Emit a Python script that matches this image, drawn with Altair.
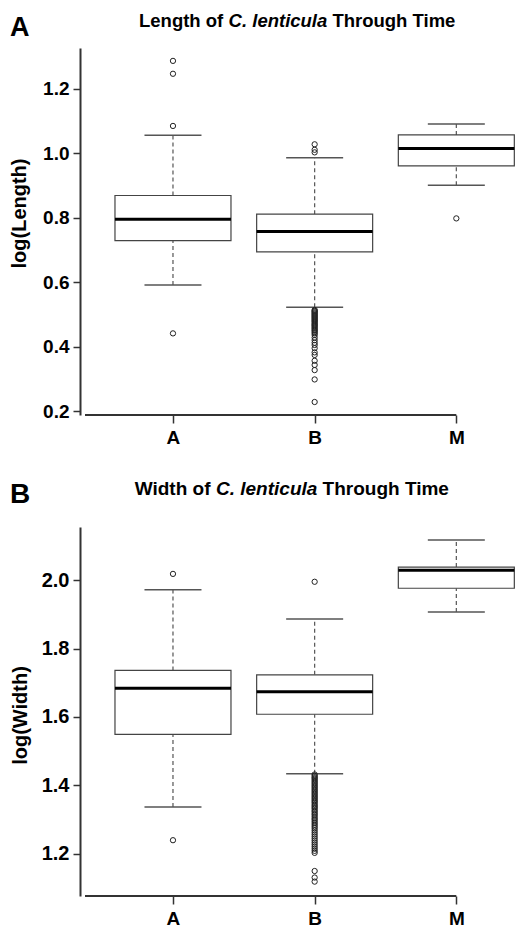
import altair as alt
import pandas as pd

groups = ["A", "B", "M"]
positions = [1, 2, 3]

# Panel A: log(Length)
len_low = [0.591, 0.522, 0.901]
len_q1 = [0.729, 0.694, 0.961]
len_med = [0.795, 0.757, 1.015]
len_q3 = [0.869, 0.811, 1.057]
len_high = [1.056, 0.986, 1.091]
len_out_A = [1.287, 1.247, 1.085, 0.441]
len_out_B = [1.028, 1.011, 1.003,
             0.514, 0.511, 0.509, 0.506, 0.503, 0.500, 0.497, 0.494, 0.491,
             0.488, 0.485, 0.482, 0.479, 0.476, 0.472, 0.469, 0.466, 0.463,
             0.459, 0.456, 0.452, 0.449, 0.445, 0.441, 0.436, 0.428, 0.420,
             0.412, 0.405, 0.395, 0.382, 0.374, 0.356, 0.343, 0.327, 0.298,
             0.228]
len_out_M = [0.798]

# Panel B: log(Width)
wid_low = [1.337, 1.434, 1.907]
wid_q1 = [1.549, 1.608, 1.976]
wid_med = [1.684, 1.674, 2.029]
wid_q3 = [1.736, 1.723, 2.038]
wid_high = [1.972, 1.886, 2.117]
wid_out_A = [2.018, 1.240]
wid_out_B = [1.995,
             1.432, 1.428, 1.424, 1.421, 1.417, 1.413, 1.409, 1.405, 1.401,
             1.397, 1.393, 1.389, 1.385, 1.381, 1.377, 1.373, 1.369, 1.365,
             1.361, 1.357, 1.353, 1.349, 1.344, 1.340, 1.336, 1.332, 1.327,
             1.323, 1.318, 1.314, 1.309, 1.304, 1.300, 1.295, 1.290, 1.285,
             1.280, 1.275, 1.269, 1.263, 1.257, 1.251, 1.245, 1.239, 1.233,
             1.227, 1.221, 1.215, 1.209, 1.203, 1.150, 1.131, 1.119]
wid_out_M = []

len_ticks = [0.2, 0.4, 0.6, 0.8, 1.0, 1.2]
wid_ticks = [1.2, 1.4, 1.6, 1.8, 2.0]

FONT = "Liberation Sans"
X_DOMAIN = [0.379, 3.393]
PLOT_W = 437


def panel(lo, q1, med, q3, hi, outs, ydom, yticks, ytitle, title_y_center,
          title_x, tick_fs, title_parts, title_base, title_fs, letter,
          letter_base, letter_fs, height):
    stats = pd.DataFrame({"group": groups, "pos": positions, "lo": lo,
                          "q1": q1, "med": med, "q3": q3, "hi": hi})
    orows = []
    for g, p, vals in zip(groups, positions, outs):
        for v in vals:
            orows.append({"group": g, "pos": p, "val": v})
    odf = pd.DataFrame(orows, columns=["group", "pos", "val"])

    xscale = alt.Scale(domain=X_DOMAIN, nice=False, zero=False)
    yscale = alt.Scale(domain=ydom, nice=False, zero=False)
    xaxis = alt.Axis(values=positions,
                     labelExpr="datum.value == 1 ? 'A' : datum.value == 2 ? 'B' : 'M'",
                     title=None, domain=False, grid=False, tickSize=8,
                     tickWidth=1.5, tickColor="#333", labelFont=FONT,
                     labelFontSize=19, labelFontWeight="bold",
                     labelColor="black", labelPadding=5)
    yaxis = alt.Axis(values=yticks, format=".1f", title=ytitle, grid=False,
                     domainColor="#333", domainWidth=2, tickSize=7,
                     tickWidth=1.5, tickColor="#333", labelFont=FONT,
                     labelFontSize=tick_fs, labelFontWeight="bold",
                     labelColor="black", labelPadding=4, titleFont=FONT,
                     titleFontSize=20, titleFontWeight="bold",
                     titleColor="black", titleAngle=270, titleAlign="center",
                     titleBaseline="alphabetic", titleX=title_x,
                     titleY=title_y_center)

    def X(f):
        return alt.X(f, type="quantitative", scale=xscale, axis=xaxis)

    def Y(f):
        return alt.Y(f, type="quantitative", scale=yscale, axis=yaxis)

    base = alt.Chart(stats)
    whisk_up = base.mark_rule(color="#555", strokeWidth=1.2,
                              strokeDash=[4, 3]).encode(
        x=X("pos"), y=Y("q3"), y2="hi")
    whisk_dn = base.mark_rule(color="#555", strokeWidth=1.2,
                              strokeDash=[4, 3]).encode(
        x=X("pos"), y=Y("lo"), y2="q1")
    cap_hi = base.mark_tick(orient="horizontal", size=57, thickness=1.5,
                            color="#555", opacity=1).encode(
        x=X("pos"), y=Y("hi"))
    cap_lo = base.mark_tick(orient="horizontal", size=57, thickness=1.5,
                            color="#555", opacity=1).encode(
        x=X("pos"), y=Y("lo"))
    box = base.mark_bar(size=116, fill="white", stroke="#444",
                        strokeWidth=1.2, clip=True).encode(
        x=X("pos"), y=Y("q1"), y2="q3")
    median = base.mark_tick(orient="horizontal", size=116, thickness=3,
                            color="black", opacity=1, clip=True).encode(
        x=X("pos"), y=Y("med"))
    pts = alt.Chart(odf).mark_point(shape="circle", filled=False, size=28,
                                    color="#222", strokeWidth=1.0,
                                    opacity=1).encode(
        x=X("pos"), y=Y("val"))
    xline = alt.Chart(pd.DataFrame({"a": [X_DOMAIN[0]], "b": [positions[-1]],
                                    "y": [ydom[0]]})).mark_rule(
        color="#333", strokeWidth=2).encode(x=X("a"), x2="b", y=Y("y"))

    layers = [whisk_up, whisk_dn, cap_hi, cap_lo, box, median, pts, xline]
    for (txt, xpos, italic) in title_parts:
        layers.append(
            alt.Chart(pd.DataFrame({"t": [txt]})).mark_text(
                font=FONT, fontSize=title_fs, fontWeight="bold",
                fontStyle="italic" if italic else "normal", align="left",
                baseline="alphabetic", color="black").encode(
                text="t:N", x=alt.value(xpos), y=alt.value(title_base)))
    layers.append(
        alt.Chart(pd.DataFrame({"t": [letter]})).mark_text(
            font=FONT, fontSize=letter_fs, fontWeight="bold", align="left",
            baseline="alphabetic", color="black").encode(
            text="t:N", x=alt.value(-70), y=alt.value(letter_base)))
    return alt.layer(*layers).properties(width=PLOT_W, height=height)


p1 = panel(len_low, len_q1, len_med, len_q3, len_high,
           [len_out_A, len_out_B, len_out_M], [0.1876, 1.327], len_ticks,
           "log(Length)", 165, -55, 19,
           [("Length of", 59, False), ("C. lenticula", 148.6, True),
            ("Through Time", 252.4, False)], -21, 18.5, "A", -12, 27, 367)
p2 = panel(wid_low, wid_q1, wid_med, wid_q3, wid_high,
           [wid_out_A, wid_out_B, wid_out_M], [1.077, 2.155], wid_ticks,
           "log(Width)", 188, -54, 20,
           [("Width of", 54.7, False), ("C. lenticula", 136, True),
            ("Through Time", 242.6, False)], -32, 19, "B", -24, 28, 369)

chart = alt.vconcat(p1, p2, spacing=112, bounds="flush").properties(
    padding={"left": 9, "top": 12, "right": 0, "bottom": 0},
    background="white",
).configure_view(stroke=None)

chart.save("out.html", embed_options={"renderer": "svg", "actions": False})
